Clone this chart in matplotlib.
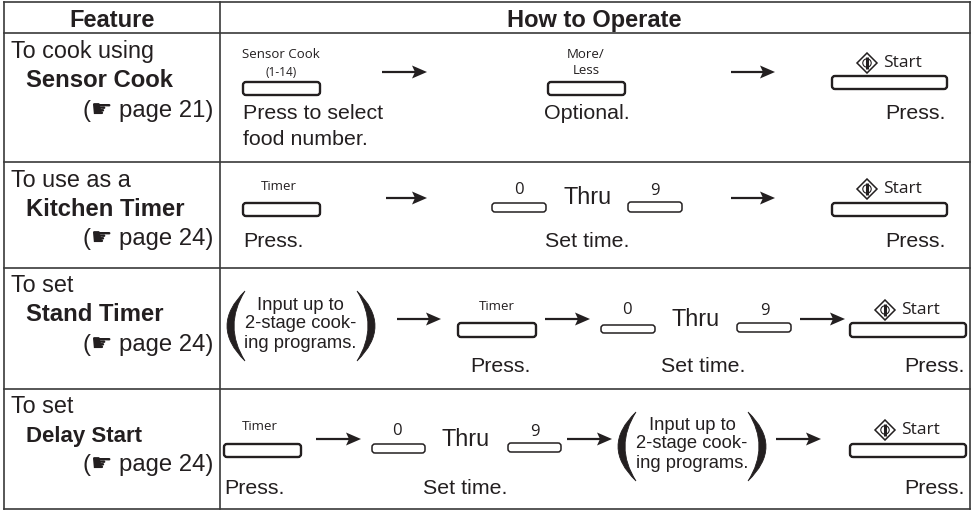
import matplotlib
matplotlib.use("Agg")
import matplotlib.pyplot as plt
from matplotlib.patches import FancyBboxPatch, PathPatch, Polygon, Circle
from matplotlib.path import Path

# table text
headers = ["Feature", "How to Operate"]
feature_intro = ["To cook using", "To use as a", "To set", "To set"]
feature_name = ["Sensor Cook", "Kitchen Timer", "Stand Timer", "Delay Start"]
feature_page = ["21", "24", "24", "24"]
input_lines = ["Input up to", "2-stage cook-", "ing programs."]

INK = "#231f20"
MAIN = "Liberation Sans"
KEY = "Open Sans"
OP = 15.4

fig = plt.figure(figsize=(9.71, 5.11), dpi=100)
ax = fig.add_axes([0, 0, 1, 1])
ax.set_xlim(0, 971)
ax.set_ylim(511, 0)
ax.axis("off")


def txt(x, y, s, size=OP, ha="left", va="baseline", weight="normal", family=MAIN):
    ax.text(x, y, s, fontsize=size, ha=ha, va=va, fontweight=weight, family=family, color=INK)


def key(x0, x1, y0, y1, lw=1.7):
    ax.add_patch(FancyBboxPatch((x0 + 2, y0 + 2), x1 - x0 - 4, y1 - y0 - 4,
                                boxstyle="round,pad=2,rounding_size=3",
                                fc="white", ec=INK, lw=lw))


def digit(x, y, s):
    txt(x, y, s, size=12, ha="center", va="center", family=KEY)


def arrow(x0, x1, y):
    ax.plot([x0, x1 - 12], [y, y], color=INK, lw=1.6, solid_capstyle="butt")
    ax.add_patch(Polygon([(x1 - 15, y - 6.5), (x1, y), (x1 - 15, y + 6.5), (x1 - 12, y)],
                         fc=INK, ec="none"))


def paren(x_tip, x_far, y0, y1):
    # crescent bracket, sharp tips at x_tip and belly towards x_far
    ym = (y0 + y1) / 2
    w = x_far - x_tip
    sign = 1 if w > 0 else -1
    verts = [(x_tip, y0), (x_tip + 2 * w, ym), (x_tip, y1),
             (x_tip + 2 * (w - sign * 7), ym), (x_tip, y0), (x_tip, y0)]
    codes = [Path.MOVETO, Path.CURVE3, Path.CURVE3, Path.CURVE3, Path.CURVE3, Path.CLOSEPOLY]
    ax.add_patch(PathPatch(Path(verts, codes), fc=INK, ec=INK, lw=0.6))


def start_key(x0, x1, y0, y1, dx, y):
    key(x0, x1, y0, y1)
    ax.add_patch(Polygon([(dx - 10, y), (dx, y - 10), (dx + 10, y), (dx, y + 10)],
                         fc="white", ec=INK, lw=1.1))
    ax.add_patch(Circle((dx, y), 4.2, fc="white", ec=INK, lw=0.8))
    ax.plot([dx, dx], [y - 6, y + 6], color=INK, lw=2.2, solid_capstyle="butt")
    txt(dx + 16, y, "Start", size=12.5, va="center", family=KEY)


def input_block(x_left, x_right, y0, y1, tx, ty):
    paren(x_left + 18, x_left, y0, y1)
    paren(x_right - 18, x_right, y0, y1)
    for i, line in enumerate(input_lines):
        txt(tx, ty + i * 19, line, size=13.2, ha="center", va="center")


# grid
for y in [2, 33.5, 162, 268, 389, 509]:
    ax.plot([4, 969.5], [y, y], color="#3a3a3a", lw=1.2, solid_capstyle="projecting")
for x in [4, 220, 969.5]:
    ax.plot([x, x], [2, 509], color="#3a3a3a", lw=1.2, solid_capstyle="projecting")

txt(112, 27, headers[0], size=17, ha="center", weight="bold")
txt(594, 27, headers[1], size=17, ha="center", weight="bold")

# feature column
base = [58, 187, 292, 413]
for i in range(4):
    txt(11, base[i], feature_intro[i], size=16.8)
    # Delay Start is set tighter in the original
    txt(26, base[i] + 29, feature_name[i], size=16 if i == 3 else 17.2, weight="bold")
    ax.text(213, base[i] + 58.5, "(\u261b page " + feature_page[i] + ")", fontsize=17.2, ha="right",
            va="baseline", color=INK, family=[MAIN, "DejaVu Sans"])

# row 1
txt(281, 55, "Sensor Cook", size=9.5, ha="center", va="center", family=KEY)
txt(281, 73, "(1-14)", size=8.5, ha="center", va="center", family=KEY)
key(243, 320, 82, 95)
txt(243, 119, "Press to select")
txt(243, 145, "food number.")
arrow(382, 427, 72)
txt(586, 55, "More/", size=9.5, ha="center", va="center", family=KEY)
txt(586, 70, "Less", size=9.5, ha="center", va="center", family=KEY)
key(548, 625, 82, 95)
txt(587, 119, "Optional.", ha="center")
arrow(731, 775, 72)
start_key(832, 947, 76, 89, 867, 63)
txt(946, 119, "Press.", ha="right")

# row 2
txt(279, 186, "Timer", size=9.5, ha="center", va="center", family=KEY)
key(243, 320, 203, 216)
txt(243, 247, "Press.")
arrow(386, 427, 198)
digit(519, 190, "0")
key(492, 546, 203, 212, lw=1.1)
txt(563, 198, "Thru", size=16.8, va="center")
digit(655, 191, "9")
key(628, 682, 202, 212, lw=1.1)
txt(587, 247, "Set time.", ha="center")
arrow(731, 775, 198)
start_key(832, 947, 203, 216, 867, 189)
txt(946, 247, "Press.", ha="right")

# row 3
input_block(227, 375, 291, 361, 300.5, 305)
arrow(397, 441, 319)
txt(497, 307, "Timer", size=9.5, ha="center", va="center", family=KEY)
key(458, 536, 323, 337)
txt(500.5, 372, "Press.", ha="center")
arrow(545, 590, 319)
digit(627, 310, "0")
key(601, 655, 325, 333, lw=1.1)
txt(672, 320, "Thru", size=16.8, va="center")
digit(765, 311, "9")
key(737, 791, 323, 332, lw=1.1)
txt(703, 372, "Set time.", ha="center")
arrow(800, 845, 319)
start_key(850, 966, 323, 337, 885, 310)
txt(965, 372, "Press.", ha="right")

# row 4
txt(260, 427, "Timer", size=9.5, ha="center", va="center", family=KEY)
key(224, 301, 444, 457)
txt(224, 494, "Press.")
arrow(316, 361, 439)
digit(397, 431, "0")
key(372, 425, 444, 453, lw=1.1)
txt(442, 440, "Thru", size=16.8, va="center")
digit(535, 432, "9")
key(508, 561, 443, 452, lw=1.1)
txt(465, 494, "Set time.", ha="center")
arrow(567, 612, 439)
input_block(618, 766, 412, 481, 692, 425)
arrow(776, 821, 439)
start_key(850, 966, 444, 457, 885, 430)
txt(965, 494, "Press.", ha="right")

fig.savefig("out.png", dpi=100)
